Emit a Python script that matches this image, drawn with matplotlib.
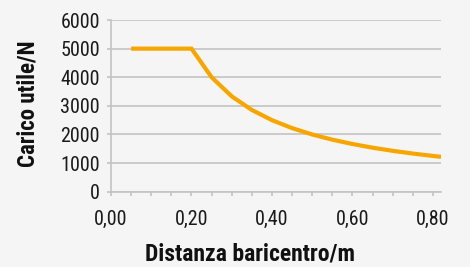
import matplotlib
matplotlib.use("Agg")
import matplotlib.pyplot as plt
import matplotlib.transforms as mtransforms
from matplotlib.ticker import MultipleLocator, FuncFormatter

# data
distanza = [0.05, 0.10, 0.15, 0.20, 0.25, 0.30, 0.35, 0.40, 0.45, 0.50,
            0.55, 0.60, 0.65, 0.70, 0.75, 0.80, 0.82]
carico = [5000, 5000, 5000, 5000, 4000, 3333, 2857, 2500, 2222, 2000,
          1818, 1667, 1538, 1429, 1333, 1250, 1220]
yticks = [0, 1000, 2000, 3000, 4000, 5000, 6000]

BG = "#f5f5f5"
ORANGE = "#f7a600"
GRID = "#c3c3c3"
FONT = ["Roboto Condensed", "DejaVu Sans"]

plt.rcParams["font.family"] = FONT

fig = plt.figure(figsize=(4.70, 2.67), dpi=100, facecolor=BG)
ax = fig.add_axes([0.2362, 0.282, 0.9383 - 0.2362, 0.925 - 0.282], facecolor=BG)

ax.plot(distanza, carico, color=ORANGE, lw=3.0, solid_capstyle="butt",
        solid_joinstyle="miter", zorder=3)

ax.set_xlim(0, 0.82)
ax.set_ylim(0, 6000)
ax.set_yticks(yticks)
ax.xaxis.set_major_locator(MultipleLocator(0.2))
ax.xaxis.set_minor_locator(MultipleLocator(0.05))
ax.xaxis.set_major_formatter(FuncFormatter(lambda v, p: f"{v:.2f}".replace(".", ",")))

ax.grid(axis="y", color=GRID, lw=1.2, zorder=1)
ax.set_axisbelow(True)
for s in ["top", "right"]:
    ax.spines[s].set_visible(False)
for s in ["left", "bottom"]:
    ax.spines[s].set_color(GRID)
    ax.spines[s].set_linewidth(1.2)

ax.tick_params(axis="both", which="both", length=3, width=1.2, color=GRID,
               labelsize=14.5, labelcolor="#1a1a1a")
ax.tick_params(axis="x", which="major", pad=10)
ax.tick_params(axis="y", pad=5)

# first x label sits a bit right of its tick in the reference
fig.canvas.draw()
first = ax.get_xticklabels()[0]
first.set_transform(first.get_transform() +
                    mtransforms.ScaledTranslation(5 / 100, 0, fig.dpi_scale_trans))

fig.text(27.5 / 470, 1 - 103.5 / 267, "Carico utile/N", rotation=90,
         fontsize=16.5, fontweight="bold", ha="center", va="center", color="#111111")
fig.text(250 / 470, 1 - 254 / 267, "Distanza baricentro/m",
         fontsize=17, fontweight="bold", ha="center", va="center", color="#111111")

fig.savefig("out.png", dpi=100, facecolor=BG)
